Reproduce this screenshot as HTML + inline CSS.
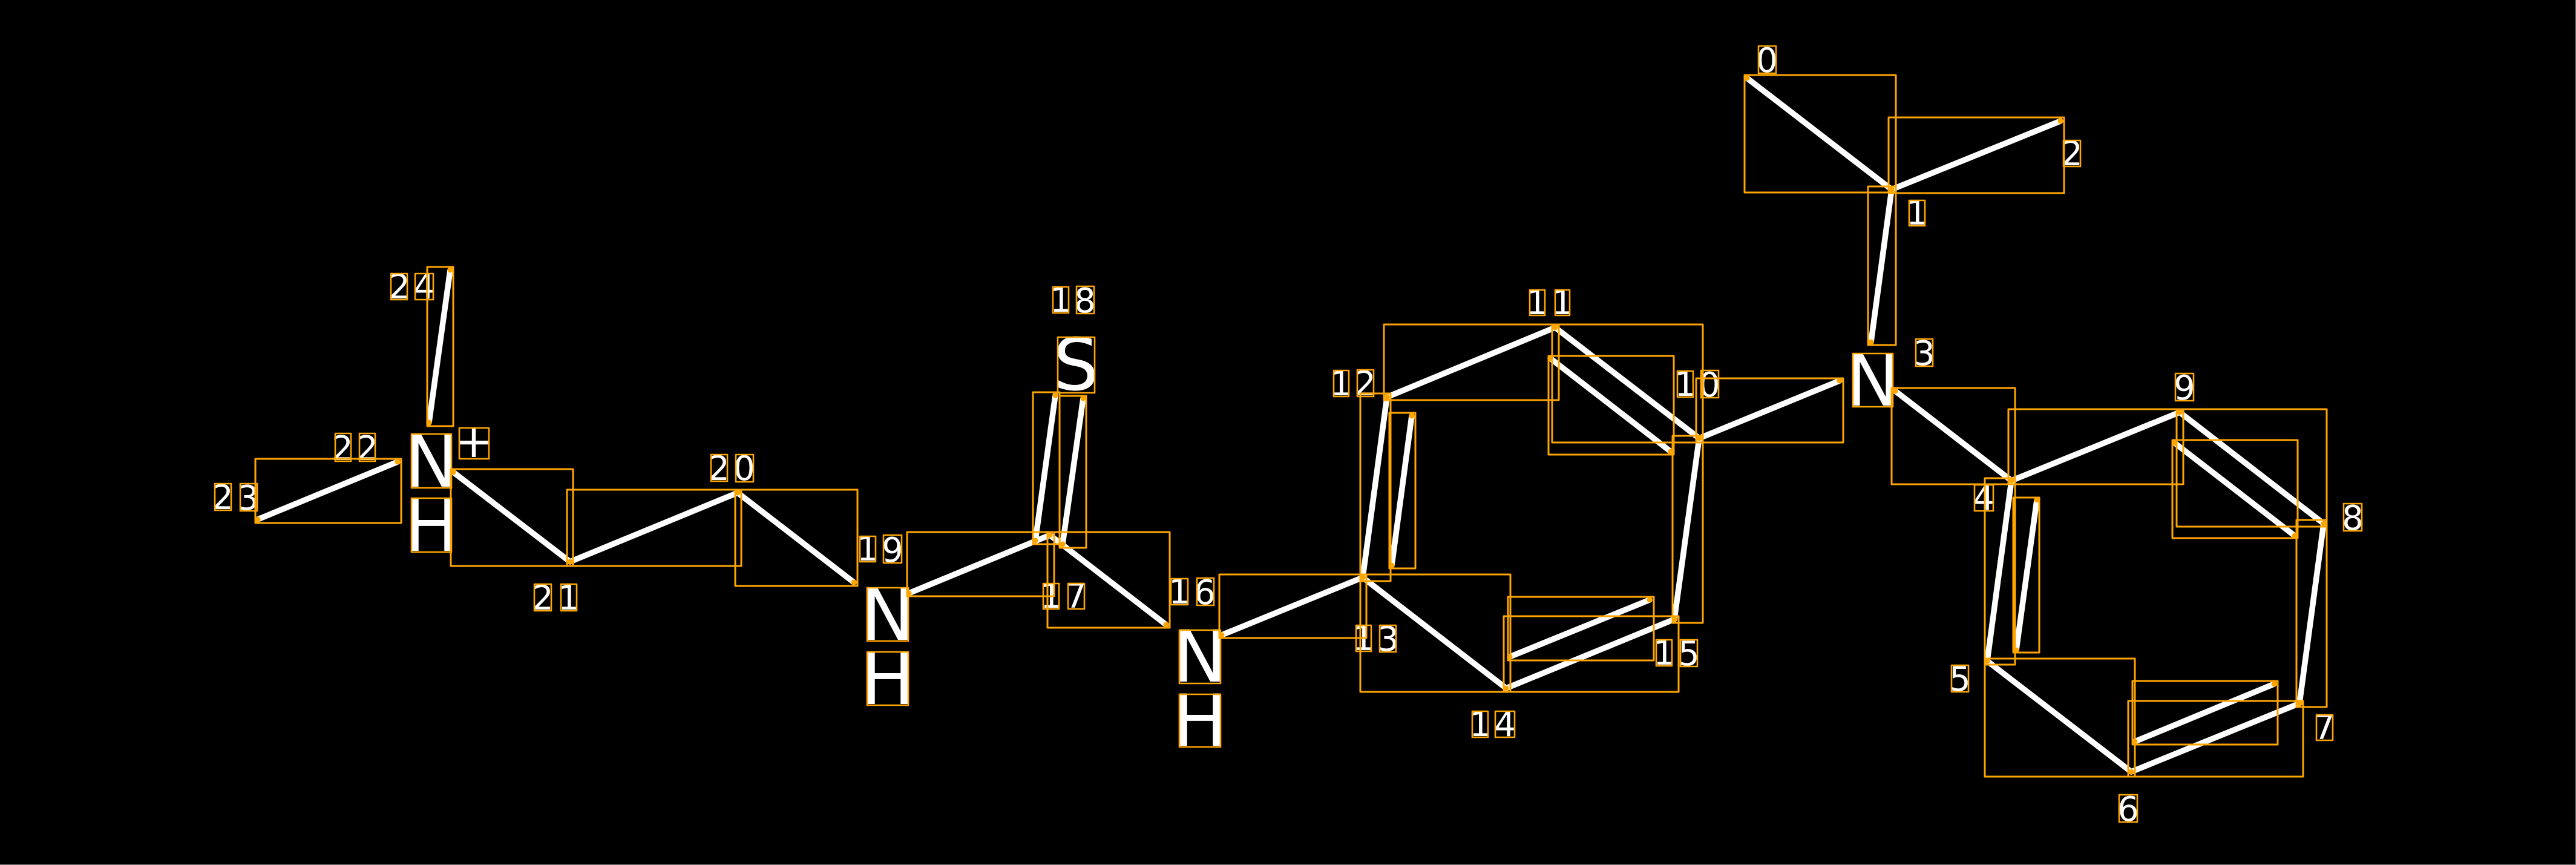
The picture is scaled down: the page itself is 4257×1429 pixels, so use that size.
<!DOCTYPE html>
<html>
<head>
<meta charset="utf-8">
<style>
html,body{margin:0;padding:0;background:#000;width:4257px;height:1429px;overflow:hidden}
svg{display:block}
text{font-family:"DejaVu Sans",sans-serif;fill:#fff;text-anchor:middle}
.d{font-size:56px}
.a{font-size:119px}
.p{font-size:76px}
.l line{stroke:#fff;stroke-width:9.5;stroke-linecap:round}
.b rect{fill:none;stroke:#FFA500;stroke-width:3;stroke-linejoin:round}
.t rect{fill:none;stroke:#FFA500;stroke-width:2.6;stroke-linejoin:round}
.c circle{fill:#FFA500}
</style>
</head>
<body>
<svg xmlns="http://www.w3.org/2000/svg" width="4257" height="1429" viewBox="0 0 4257 1429">
<rect x="0" y="0" width="4257" height="1429" fill="#000"/>
<rect x="4256" y="0" width="1" height="1429" fill="#888"/>
<rect x="0" y="1428" width="4257" height="1" fill="#888"/>

<g class="l">
<line x1="2887" y1="129" x2="3126" y2="313"/>
<line x1="3126" y1="313" x2="3405" y2="200"/>
<line x1="3126" y1="313" x2="3092" y2="565"/>
<line x1="3132" y1="646" x2="3324" y2="794"/>
<line x1="3324" y1="794" x2="3602" y2="681"/>
<line x1="3602" y1="681" x2="3840" y2="865"/>
<line x1="3840" y1="865" x2="3800" y2="1162"/>
<line x1="3800" y1="1162" x2="3522" y2="1275"/>
<line x1="3522" y1="1275" x2="3284" y2="1092"/>
<line x1="3284" y1="1092" x2="3324" y2="794"/>
<line x1="3366" y1="826" x2="3332" y2="1074"/>
<line x1="3594" y1="732" x2="3792" y2="885"/>
<line x1="3528" y1="1225" x2="3758" y2="1130"/>
<line x1="3040" y1="629" x2="2808" y2="724"/>
<line x1="2808" y1="724" x2="2570" y2="541"/>
<line x1="2570" y1="541" x2="2292" y2="656"/>
<line x1="2292" y1="656" x2="2252" y2="954"/>
<line x1="2252" y1="954" x2="2489" y2="1137"/>
<line x1="2489" y1="1137" x2="2767" y2="1023"/>
<line x1="2767" y1="1023" x2="2808" y2="724"/>
<line x1="2562" y1="592" x2="2761" y2="746"/>
<line x1="2333" y1="687" x2="2300" y2="934"/>
<line x1="2495" y1="1085" x2="2726" y2="991"/>
<line x1="2252" y1="954" x2="2019" y2="1049"/>
<line x1="1927" y1="1032" x2="1735" y2="884"/>
<line x1="1735" y1="884" x2="1502" y2="980"/>
<line x1="1744" y1="653" x2="1711" y2="893"/>
<line x1="1790" y1="658" x2="1756" y2="899"/>
<line x1="1411" y1="962" x2="1219" y2="814"/>
<line x1="1219" y1="814" x2="942" y2="928"/>
<line x1="942" y1="928" x2="749" y2="780"/>
<line x1="657" y1="763" x2="426" y2="858"/>
<line x1="744" y1="446" x2="709" y2="698"/>
</g>

<g>
<text class="d" x="2920" y="119">0</text>
<text class="d" x="3168" y="371">1</text>
<text class="d" x="3424" y="273">2</text>
<text class="d" x="3180" y="603">3</text>
<text class="d" x="3278" y="842">4</text>
<text class="d" x="3239" y="1141">5</text>
<text class="d" x="3517" y="1356">6</text>
<text class="d" x="3841" y="1221">7</text>
<text class="d" x="3888" y="875">8</text>
<text class="d" x="3610" y="660">9</text>
<text class="d" x="2785" y="654">1</text><text class="d" x="2825" y="655">0</text>
<text class="d" x="2540" y="519">1</text><text class="d" x="2582" y="519">1</text>
<text class="d" x="2216" y="653">1</text><text class="d" x="2256" y="653">2</text>
<text class="d" x="2253" y="1074">1</text><text class="d" x="2294" y="1075">3</text>
<text class="d" x="2446" y="1216">1</text><text class="d" x="2487" y="1216">4</text>
<text class="d" x="2750" y="1098">1</text><text class="d" x="2791" y="1099">5</text>
<text class="d" x="1949" y="997">1</text><text class="d" x="1991" y="998">6</text>
<text class="d" x="1737" y="1004">1</text><text class="d" x="1778" y="1004">7</text>
<text class="d" x="1753" y="515">1</text><text class="d" x="1793" y="516">8</text>
<text class="d" x="1434" y="926">1</text><text class="d" x="1475" y="928">9</text>
<text class="d" x="1188" y="793">2</text><text class="d" x="1230" y="793">0</text>
<text class="d" x="897" y="1007">2</text><text class="d" x="940" y="1007">1</text>
<text class="d" x="566" y="760">2</text><text class="d" x="607" y="760">2</text>
<text class="d" x="368" y="841">2</text><text class="d" x="410" y="842">3</text>
<text class="d" x="660" y="493">2</text><text class="d" x="701" y="493">4</text>
<text class="a" x="3095" y="670">N</text>
<text class="a" x="1778" y="644">S</text>
<text class="a" x="1467" y="1057">N</text>
<text class="a" x="1467" y="1163">H</text>
<text class="a" x="1983" y="1126">N</text>
<text class="a" x="1983" y="1232">H</text>
<text class="a" x="713" y="804">N</text>
<text class="a" x="713" y="910">H</text>
<text class="p" x="783" y="755">+</text>
</g>

<g class="b">
<rect x="2883" y="124" width="250" height="194"/>
<rect x="3121" y="194" width="290" height="125"/>
<rect x="3087" y="308" width="46" height="262"/>
<rect x="3126" y="641" width="204" height="159"/>
<rect x="3319" y="676" width="289" height="124"/>
<rect x="3597" y="676" width="248" height="194"/>
<rect x="3590" y="727" width="207" height="162"/>
<rect x="3795" y="859" width="50" height="309"/>
<rect x="3517" y="1158" width="289" height="125"/>
<rect x="3524" y="1125" width="240" height="105"/>
<rect x="3280" y="1088" width="248" height="195"/>
<rect x="3280" y="790" width="50" height="308"/>
<rect x="3327" y="822" width="43" height="256"/>
<rect x="2803" y="625" width="243" height="106"/>
<rect x="2565" y="536" width="249" height="195"/>
<rect x="2287" y="536" width="289" height="125"/>
<rect x="2559" y="588" width="207" height="163"/>
<rect x="2248" y="650" width="50" height="310"/>
<rect x="2296" y="682" width="43" height="257"/>
<rect x="2248" y="949" width="248" height="194"/>
<rect x="2485" y="1018" width="289" height="125"/>
<rect x="2492" y="986" width="241" height="105"/>
<rect x="2764" y="720" width="50" height="309"/>
<rect x="2015" y="949" width="243" height="105"/>
<rect x="1731" y="879" width="202" height="158"/>
<rect x="1499" y="879" width="243" height="106"/>
<rect x="1707" y="648" width="44" height="251"/>
<rect x="1751" y="654" width="44" height="251"/>
<rect x="1215" y="809" width="202" height="159"/>
<rect x="937" y="809" width="288" height="126"/>
<rect x="745" y="775" width="202" height="160"/>
<rect x="422" y="758" width="241" height="106"/>
<rect x="706" y="441" width="43" height="263"/>
</g>

<g class="t">
<rect x="2906" y="76" width="29" height="45"/>
<rect x="3155" y="331" width="26" height="42"/>
<rect x="3410" y="232" width="28" height="43"/>
<rect x="3166" y="560" width="28" height="45"/>
<rect x="3263" y="801" width="31" height="43"/>
<rect x="3225" y="1099" width="28" height="44"/>
<rect x="3502" y="1313" width="30" height="45"/>
<rect x="3828" y="1181" width="27" height="42"/>
<rect x="3873" y="832" width="30" height="45"/>
<rect x="3595" y="617" width="30" height="45"/>
<rect x="2772" y="613" width="26" height="43"/><rect x="2811" y="612" width="29" height="45"/>
<rect x="2528" y="479" width="25" height="42"/><rect x="2570" y="479" width="24" height="42"/>
<rect x="2204" y="612" width="25" height="43"/><rect x="2243" y="611" width="27" height="44"/>
<rect x="2241" y="1033" width="25" height="43"/><rect x="2280" y="1033" width="27" height="44"/>
<rect x="2433" y="1175" width="26" height="43"/><rect x="2471" y="1175" width="32" height="43"/>
<rect x="2737" y="1057" width="26" height="43"/><rect x="2777" y="1057" width="28" height="44"/>
<rect x="1935" y="956" width="28" height="43"/><rect x="1978" y="955" width="28" height="45"/>
<rect x="1724" y="964" width="26" height="42"/><rect x="1765" y="964" width="27" height="42"/>
<rect x="1740" y="474" width="26" height="43"/><rect x="1779" y="473" width="29" height="45"/>
<rect x="1421" y="886" width="26" height="42"/><rect x="1460" y="884" width="30" height="46"/>
<rect x="1175" y="751" width="27" height="44"/><rect x="1216" y="751" width="29" height="45"/>
<rect x="883" y="965" width="28" height="44"/><rect x="927" y="965" width="26" height="44"/>
<rect x="554" y="716" width="26" height="46"/><rect x="594" y="716" width="26" height="46"/>
<rect x="355" y="799" width="27" height="44"/><rect x="397" y="799" width="28" height="45"/>
<rect x="646" y="452" width="27" height="43"/><rect x="686" y="452" width="30" height="43"/>
<rect x="3062" y="584" width="66" height="88"/>
<rect x="1748" y="557" width="61" height="92"/>
<rect x="1433" y="971" width="68" height="88"/>
<rect x="1433" y="1077" width="68" height="88"/>
<rect x="1949" y="1041" width="68" height="88"/>
<rect x="1949" y="1147" width="68" height="87"/>
<rect x="680" y="717" width="66" height="89"/>
<rect x="680" y="823" width="66" height="89"/>
<rect x="759" y="707" width="49" height="51"/>
</g>

<g class="c">
<circle cx="2887" cy="129" r="4.5"/><circle cx="3126" cy="313" r="4.5"/><circle cx="3405" cy="200" r="4.5"/>
<circle cx="3092" cy="565" r="4.5"/><circle cx="3132" cy="646" r="4.5"/><circle cx="3324" cy="794" r="4.5"/>
<circle cx="3602" cy="681" r="4.5"/><circle cx="3840" cy="865" r="4.5"/><circle cx="3800" cy="1162" r="4.5"/>
<circle cx="3522" cy="1275" r="4.5"/><circle cx="3284" cy="1092" r="4.5"/>
<circle cx="3366" cy="826" r="4.5"/><circle cx="3332" cy="1074" r="4.5"/><circle cx="3594" cy="732" r="4.5"/>
<circle cx="3792" cy="885" r="4.5"/><circle cx="3528" cy="1225" r="4.5"/><circle cx="3758" cy="1130" r="4.5"/>
<circle cx="3040" cy="629" r="4.5"/><circle cx="2808" cy="724" r="4.5"/><circle cx="2570" cy="541" r="4.5"/>
<circle cx="2292" cy="656" r="4.5"/><circle cx="2252" cy="954" r="4.5"/><circle cx="2489" cy="1137" r="4.5"/>
<circle cx="2767" cy="1023" r="4.5"/><circle cx="2562" cy="592" r="4.5"/><circle cx="2761" cy="746" r="4.5"/>
<circle cx="2333" cy="687" r="4.5"/><circle cx="2300" cy="934" r="4.5"/><circle cx="2495" cy="1085" r="4.5"/>
<circle cx="2726" cy="991" r="4.5"/><circle cx="2019" cy="1049" r="4.5"/><circle cx="1927" cy="1032" r="4.5"/>
<circle cx="1735" cy="884" r="4.5"/><circle cx="1502" cy="980" r="4.5"/><circle cx="1744" cy="653" r="4.5"/>
<circle cx="1711" cy="893" r="4.5"/><circle cx="1790" cy="658" r="4.5"/><circle cx="1756" cy="899" r="4.5"/>
<circle cx="1411" cy="962" r="4.5"/><circle cx="1219" cy="814" r="4.5"/><circle cx="942" cy="928" r="4.5"/>
<circle cx="749" cy="780" r="4.5"/><circle cx="657" cy="763" r="4.5"/><circle cx="426" cy="858" r="4.5"/>
<circle cx="744" cy="446" r="4.5"/><circle cx="709" cy="698" r="4.5"/>
</g>
</svg>
</body>
</html>
